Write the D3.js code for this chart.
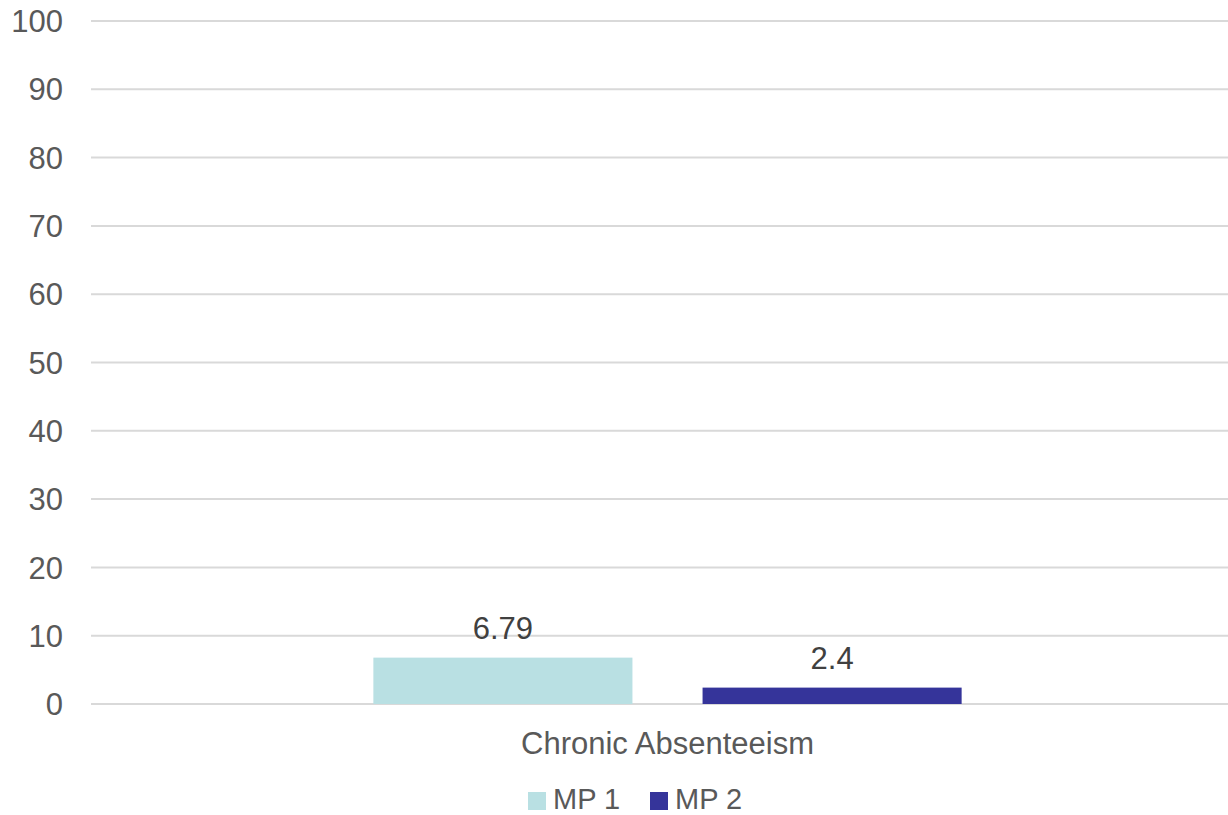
<!DOCTYPE html>
<html>
<head>
<meta charset="utf-8">
<script src="https://cdn.jsdelivr.net/npm/d3@7"></script>
<style>
  body { margin: 0; background: #fff; }
  svg { display: block; font-family: "Liberation Sans", Arial, sans-serif; }
</style>
</head>
<body>
<div id="chart"></div>
<script>
// Data
const categories = ["Chronic Absenteeism"];
const seriesNames = ["MP 1", "MP 2"];
const seriesValues = [[6.79], [2.4]];
const seriesColors = ["#b9e0e3", "#35349a"];
const yTicks = [0, 10, 20, 30, 40, 50, 60, 70, 80, 90, 100];

const width = 1228, height = 815;
const svg = d3.select("#chart").append("svg")
  .attr("width", width)
  .attr("height", height);

const plotLeft = 91, plotRight = 1228;

const y = d3.scaleLinear().domain([0, 100]).range([704, 21]);

const x0 = d3.scaleBand()
  .domain(categories)
  .range([plotLeft, 1244])
  .paddingInner(0)
  .paddingOuter(0.48);

const x1 = d3.scaleBand()
  .domain(seriesNames)
  .range([0, x0.bandwidth()])
  .paddingInner(0.213)
  .paddingOuter(0);

// Gridlines
svg.append("g").selectAll("line")
  .data(yTicks)
  .enter()
  .append("line")
  .attr("x1", plotLeft)
  .attr("x2", plotRight)
  .attr("y1", d => y(d))
  .attr("y2", d => y(d))
  .attr("stroke", "#d9d9d9")
  .attr("stroke-width", 2);

// Y tick labels
svg.append("g").selectAll("text")
  .data(yTicks)
  .enter()
  .append("text")
  .attr("x", 63)
  .attr("y", d => y(d))
  .attr("dy", "0.36em")
  .attr("text-anchor", "end")
  .attr("fill", "#595959")
  .attr("font-size", "31px")
  .text(d => d);

// Bars
const rows = [];
categories.forEach((c, ci) => {
  seriesNames.forEach((s, si) => {
    rows.push({ cat: c, series: s, value: seriesValues[si][ci], color: seriesColors[si] });
  });
});

svg.append("g").selectAll("rect")
  .data(rows)
  .enter()
  .append("rect")
  .attr("x", d => x0(d.cat) + x1(d.series))
  .attr("y", d => y(d.value))
  .attr("width", x1.bandwidth())
  .attr("height", d => y(0) - y(d.value))
  .attr("fill", d => d.color);

// Data labels
svg.append("g").selectAll("text")
  .data(rows)
  .enter()
  .append("text")
  .attr("x", d => x0(d.cat) + x1(d.series) + x1.bandwidth() / 2)
  .attr("y", d => y(d.value) - 19)
  .attr("text-anchor", "middle")
  .attr("fill", "#404040")
  .attr("font-size", "31px")
  .text(d => d.value);

// Category labels
svg.append("g").selectAll("text")
  .data(categories)
  .enter()
  .append("text")
  .attr("x", d => x0(d) + x0.bandwidth() / 2)
  .attr("y", 754)
  .attr("text-anchor", "middle")
  .attr("fill", "#595959")
  .attr("font-size", "31px")
  .text(d => d);

// Legend
const legendX = [528, 650];
const legend = svg.append("g").selectAll("g")
  .data(seriesNames)
  .enter()
  .append("g")
  .attr("transform", (d, i) => `translate(${legendX[i]},0)`);

legend.append("rect")
  .attr("x", 0)
  .attr("y", 792)
  .attr("width", 18)
  .attr("height", 18)
  .attr("fill", (d, i) => seriesColors[i]);

legend.append("text")
  .attr("x", 25)
  .attr("y", 809)
  .attr("fill", "#595959")
  .attr("font-size", "29px")
  .text(d => d);
</script>
</body>
</html>
